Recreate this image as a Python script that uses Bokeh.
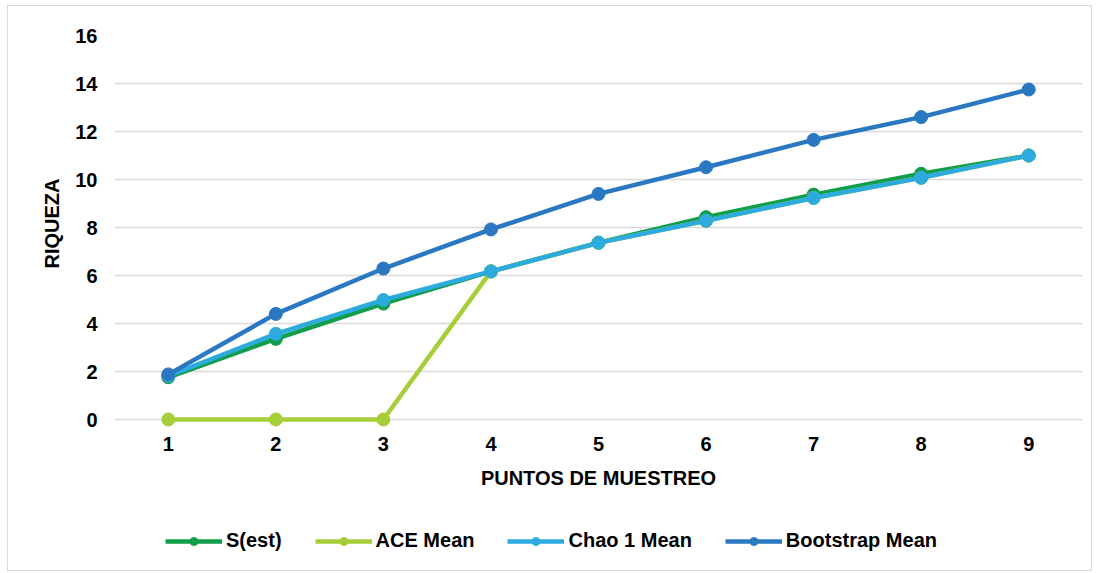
from bokeh.plotting import figure
from bokeh.models import Range1d, FixedTicker, Legend, LegendItem, Title, Label
from bokeh.embed import file_html
from bokeh.resources import INLINE

puntos = [1, 2, 3, 4, 5, 6, 7, 8, 9]
s_est = [1.76, 3.36, 4.83, 6.17, 7.37, 8.43, 9.37, 10.24, 11.0]
ace_mean = [0, 0, 0, 6.17, 7.36, 8.28, 9.23, 10.07, 11.0]
chao1_mean = [1.82, 3.57, 4.98, 6.17, 7.36, 8.28, 9.23, 10.07, 11.0]
bootstrap_mean = [1.88, 4.40, 6.29, 7.92, 9.40, 10.51, 11.65, 12.60, 13.75]

series_names = ["S(est)", "ACE Mean", "Chao 1 Mean", "Bootstrap Mean"]
series_values = [s_est, ace_mean, chao1_mean, bootstrap_mean]
colors = ["#109E4A", "#A6CE39", "#2EABDE", "#2A78C2"]
y_ticks = [0, 2, 4, 6, 8, 10, 12, 14, 16]

FONT = "Liberation Sans"

# frame extends below the value axis so that the legend fits inside it
FRAME_H = 535
PX_PER_UNIT = 24.0
y_top = 16
y_bottom = y_top - FRAME_H / PX_PER_UNIT

p = figure(frame_width=968, frame_height=FRAME_H, output_backend="svg",
           toolbar_location=None,
           x_range=Range1d(0.5, 9.5), y_range=Range1d(y_bottom, y_top),
           min_border_left=106, min_border_top=29, min_border_right=9,
           min_border_bottom=0,
           styles={"border": "1px solid #d9d9d9", "margin-left": "7px",
                   "margin-top": "5px"})
p.outline_line_color = None
p.background_fill_color = "white"

for ax in (p.xaxis, p.yaxis):
    ax.axis_line_color = None
    ax.major_tick_line_color = None
    ax.minor_tick_line_color = None
    ax.major_label_text_font = FONT
    ax.major_label_text_font_style = "bold"
    ax.major_label_text_font_size = "20px"
    ax.major_label_text_color = "#000000"

p.xaxis.ticker = FixedTicker(ticks=puntos)
p.yaxis.ticker = FixedTicker(ticks=y_ticks)
p.xaxis.fixed_location = 0
p.xaxis.major_label_standoff = 11
p.yaxis.major_label_standoff = 11

p.xgrid.grid_line_color = None
p.ygrid.grid_line_color = "#d9d9d9"
p.ygrid.grid_line_width = 1.5

# axis titles
x_title = Label(x=5, y=-2.417, text="PUNTOS DE MUESTREO", text_align="center",
                text_baseline="middle", text_font=FONT, text_font_style="bold",
                text_font_size="20px", text_color="#000000")
p.add_layout(x_title)

y_title = Title(text="RIQUEZA", align="right", vertical_align="middle", offset=143,
                standoff=18, text_font=FONT, text_font_style="bold",
                text_font_size="20px", text_color="#000000")
p.add_layout(y_title, "left")

items = []
for name, vals, col in zip(series_names, series_values, colors):
    l = p.line(puntos, vals, line_color=col, line_width=4.5)
    s = p.scatter(puntos, vals, size=13, fill_color=col, line_color=col)
    items.append(LegendItem(label=name, renderers=[l, s]))

legend = Legend(items=items, orientation="horizontal", location=(51, 18),
                padding=0, margin=0, spacing=33, glyph_width=57, glyph_height=20,
                label_height=20, label_standoff=4,
                label_text_font=FONT, label_text_font_style="bold",
                label_text_font_size="20px", label_text_color="#000000",
                border_line_color=None, background_fill_alpha=0)
p.add_layout(legend, "center")

open("out.html", "w").write(file_html(p, INLINE))
